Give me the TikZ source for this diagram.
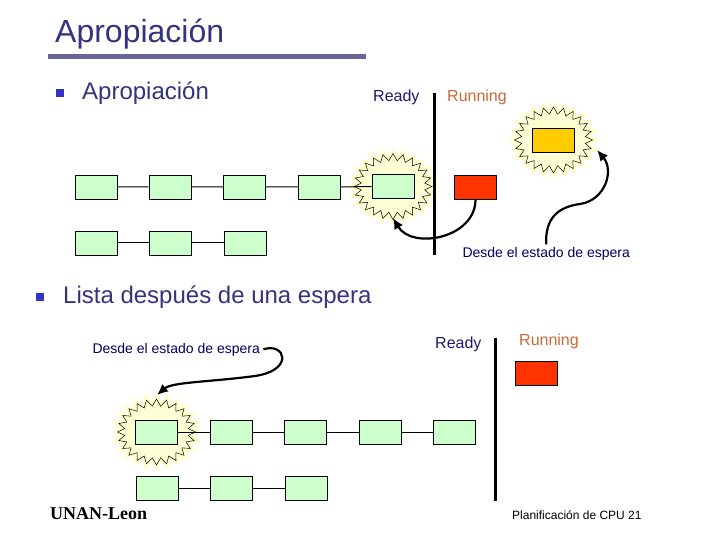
\documentclass[tikz,border=0pt]{standalone}
\usepackage{fontspec}
\setmainfont{Liberation Sans}
\newfontfamily\timesfont{Liberation Serif}
\usepackage{tikz}
\usetikzlibrary{calc,arrows.meta}
\definecolor{titlecol}{HTML}{333380}
\definecolor{rulecol}{HTML}{666699}
\definecolor{bulletcol}{HTML}{3333CC}
\definecolor{readycol}{HTML}{1A1A6E}
\definecolor{runcol}{HTML}{CC6633}
\definecolor{notecol}{HTML}{000066}
\definecolor{procG}{HTML}{CCFFCC}
\definecolor{procR}{HTML}{FF3300}
\definecolor{procY}{HTML}{FFCC00}
\definecolor{sunfill}{HTML}{FFFFD6}
\definecolor{sunglow}{HTML}{FFFFCC}
\tikzset{
  proc/.style={draw=black, line width=0.8bp, fill=procG, minimum width=42bp, minimum height=24bp, inner sep=0pt},
  procred/.style={proc, fill=procR},
  procyel/.style={proc, fill=procY},
  link/.style={draw=black, line width=1bp},
  sun/.style={draw=black, line width=0.5bp, fill=sunfill, preaction={draw=sunglow, line width=6bp}},
  bar/.style={draw=black, line width=3bp},
  jump/.style={draw=black, line width=2.2bp, -{Latex[length=11bp,width=10bp]}},
  bullet/.style={fill=bulletcol, minimum size=8bp, inner sep=0pt},
  head/.style={text=titlecol, font=\fontsize{32bp}{36bp}\selectfont, anchor=base west, inner sep=0pt},
  item/.style={text=titlecol, font=\fontsize{24bp}{28bp}\selectfont, anchor=base west, inner sep=0pt},
  ready/.style={text=readycol, font=\fontsize{16bp}{18bp}\selectfont, anchor=base west, inner sep=0pt},
  running/.style={text=runcol, font=\fontsize{16bp}{18bp}\selectfont, anchor=base west, inner sep=0pt},
  note/.style={text=notecol, font=\fontsize{14bp}{16bp}\selectfont, anchor=base west},
  foot/.style={text=black, font=\fontsize{12bp}{14bp}\selectfont, anchor=base west, inner sep=0pt}
}
% zig-zag burst round a point
\newcommand{\sunburst}[1]{%
  \draw[sun] ($(#1)+(0:39 and 33)$) \foreach \k in {1,...,47}{ -- ($(#1)+(\k*7.5:{39-7*mod(\k,2)} and {33-7*mod(\k,2)})$)} -- cycle;}

\begin{document}
\begin{tikzpicture}[x=1bp, y=-1bp]
  \useasboundingbox (0,0) rectangle (720,540);

  \node[head] (title) at (55,43) {Apropiación};
  \fill[rulecol] (48,54) rectangle (366,59);

  \node[bullet] (dot1) at (60,93) {};
  \node[item] (t1) at (82,100) {Apropiación};
  \node[bullet] (dot2) at (39.5,297) {};
  \node[item] (t2) at (63,303) {Lista después de una espera};

  \coordinate (S1) at (393,186.5);
  \coordinate (S2) at (553.5,140);
  \coordinate (S3) at (156.5,432);
  \sunburst{S1}
  \sunburst{S2}
  \sunburst{S3}

  % before the wait
  \node[ready] (rdy1) at (373,102) {Ready};
  \node[running] (run1) at (447,102) {Running};
  \draw[bar] (434,93) -- (434,255);

  \node[proc] (a1) at (96,187) {};
  \node[proc] (a2) at (170,187) {};
  \node[proc] (a3) at (244.5,187) {};
  \node[proc] (a4) at (319.5,187) {};
  \node[proc] (a5) at (S1) {};
  \draw[link] (a1) -- (a2) (a2) -- (a3) (a3) -- (a4) (a4) -- (a5);

  \node[proc] (b1) at (96,243) {};
  \node[proc] (b2) at (170,243) {};
  \node[proc] (b3) at (245,243) {};
  \draw[link] (b1) -- (b2) (b2) -- (b3);

  \node[procred] (red1) at (475.5,187) {};
  \node[procyel] (yel) at (S2) {};
  \node[note] (desde1) at (459,258) {Desde el estado de espera};

  \coordinate (tip1) at (393,218);
  \coordinate (tip2) at (597,150);
  \draw[jump] (red1.south) .. controls +(0,39) and +(19,32) .. (tip1);
  \draw[jump] (desde1.north) .. controls (545,218) and (558,207) .. (580,204)
    .. controls (606,200) and (614,170) .. (tip2);

  % after the wait
  \node[ready] (rdy2) at (435,348) {Ready};
  \node[running] (run2) at (519,345) {Running};
  \draw[bar] (495,338) -- (495,501);

  \node[proc] (c1) at (S3) {};
  \node[proc] (c2) at (231,432) {};
  \node[proc] (c3) at (305.5,432) {};
  \node[proc] (c4) at (380.5,432) {};
  \node[proc] (c5) at (454.5,432) {};
  \draw[link] (c1) -- (c2) (c2) -- (c3) (c3) -- (c4) (c4) -- (c5);

  \node[proc] (d1) at (157.5,488) {};
  \node[proc] (d2) at (231.5,488) {};
  \node[proc] (d3) at (306,488) {};
  \draw[link] (d1) -- (d2) (d2) -- (d3);

  \node[procred] (red2) at (536.5,373.5) {};
  \node[note] (desde2) at (89,353) {Desde el estado de espera};

  \coordinate (tip3) at (157,395);
  \draw[jump] (desde2.east) .. controls (285,342) and (295,370) .. (255,376)
    .. controls (210,382) and (172,382) .. (tip3);

  \node[anchor=base west, inner sep=0pt, font=\timesfont\bfseries\fontsize{18bp}{20bp}\selectfont] (uni) at (50,519) {UNAN-Leon};
  \node[foot] (page) at (512,519) {Planificación de CPU 21};
\end{tikzpicture}
\end{document}
